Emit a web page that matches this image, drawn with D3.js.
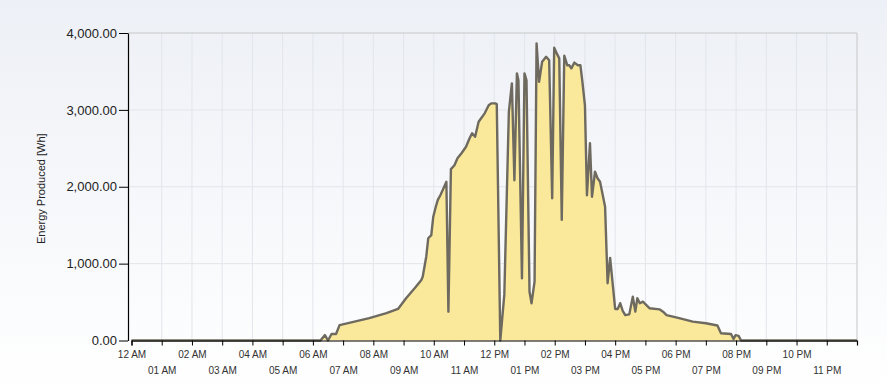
<!DOCTYPE html>
<html>
<head>
<meta charset="utf-8">
<script src="https://cdn.jsdelivr.net/npm/d3@7"></script>
<style>
  body { margin: 0; background: #fff; }
  svg { display: block; font-family: "Liberation Sans", Arial, sans-serif; }
</style>
</head>
<body>
<script>
// readings, time of day -> Wh
const times = ["0:00","6:15","6:24","6:30","6:37","6:46","6:53","7:52","8:26","8:49","9:05","9:22","9:35","9:38","9:45","9:49","9:55","9:59","10:04","10:08","10:13","10:18","10:25","10:29","10:34","10:41","10:47","10:55","11:04","11:11","11:16","11:22","11:29","11:34","11:41","11:49","11:54","12:02","12:05","12:12","12:20","12:29","12:35","12:40","12:45","12:48","12:55","13:00","13:04","13:10","13:14","13:20","13:24","13:29","13:35","13:43","13:49","13:55","13:59","14:04","14:09","14:14","14:19","14:25","14:29","14:33","14:39","14:46","14:51","14:55","15:00","15:04","15:10","15:14","15:20","15:25","15:30","15:40","15:45","15:50","16:00","16:05","16:10","16:15","16:20","16:28","16:35","16:40","16:44","16:49","16:55","17:02","17:08","17:28","17:35","17:42","18:07","18:34","19:00","19:23","19:30","19:50","19:55","19:59","20:05","20:10","24:00"];
const energy = [0,0,70,0,85,85,200,290,355,410,550,680,785,830,1090,1330,1370,1610,1740,1830,1890,1960,2065,375,2230,2280,2370,2435,2520,2630,2695,2650,2845,2890,2955,3060,3085,3085,3075,0,600,2975,3345,2085,3475,3385,810,3475,3385,635,485,765,3865,3365,3625,3690,3645,1850,3810,3735,3670,1570,3705,3580,3580,3540,3615,3580,3580,3365,3060,1890,2565,1870,2195,2110,2065,1740,745,1075,410,410,485,385,330,340,570,375,550,485,505,460,420,405,375,330,290,245,225,195,95,85,20,70,60,0,0];
const hourTicks = d3.range(0, 24);
const valueTicks = [0, 1000, 2000, 3000, 4000];
const yLabel = "Energy Produced [Wh]";

const W = 887, H = 392;
const margin = {top: 33, right: 30, bottom: 51, left: 128};

const toHours = s => { const p = s.split(":"); return +p[0] + p[1] / 60; };
const data = times.map((t, i) => ({h: toHours(t), v: energy[i]}));

const svg = d3.select("body").append("svg")
  .attr("width", W)
  .attr("height", H);

const grad = svg.append("defs").append("linearGradient")
  .attr("id", "bg").attr("x1", 0).attr("y1", 0).attr("x2", 0).attr("y2", 1);
grad.append("stop").attr("offset", "0%").attr("stop-color", "#edf0f6");
grad.append("stop").attr("offset", "100%").attr("stop-color", "#ffffff");

svg.append("rect").attr("width", W).attr("height", H).attr("fill", "url(#bg)");

const x = d3.scaleLinear().domain([0, 24]).range([131.5, 857]);
const y = d3.scaleLinear().domain([0, 4000]).range([340.5, 33]);

// grid
const grid = svg.append("g");
grid.selectAll(".gx").data(hourTicks.slice(1))
  .enter().append("line")
  .attr("x1", d => x(d)).attr("x2", d => x(d))
  .attr("y1", y(4000)).attr("y2", y(0))
  .attr("stroke", "#e2e5eb");
grid.selectAll(".gy").data(valueTicks.slice(1, 4))
  .enter().append("line")
  .attr("x1", margin.left).attr("x2", x(24))
  .attr("y1", d => y(d)).attr("y2", d => y(d))
  .attr("stroke", "#e2e5eb");

// plot frame top/right
svg.append("path")
  .attr("d", `M${margin.left},${y(4000)}H${x(24)}V${y(0)}`)
  .attr("fill", "none")
  .attr("stroke", "#c6c6c6");

const area = d3.area()
  .x(d => x(d.h))
  .y0(y(0))
  .y1(d => y(d.v));

const line = d3.line()
  .x(d => x(d.h))
  .y(d => y(d.v));

svg.append("path").datum(data)
  .attr("d", area)
  .attr("fill", "#fbe896")
  .attr("fill-opacity", 0.95);

svg.append("path").datum(data)
  .attr("d", line)
  .attr("fill", "none")
  .attr("stroke", "#6e6a5f")
  .attr("stroke-width", 2.4)
  .attr("stroke-linejoin", "round");

// x axis
const fmt = d3.timeFormat("%I %p");
const xAxis = svg.append("g")
  .attr("transform", `translate(0,${y(0)})`)
  .call(d3.axisBottom(x).tickValues(hourTicks).tickSize(5).tickSizeOuter(5)
    .tickFormat(d => fmt(new Date(2020, 0, 1, d))));
xAxis.select(".domain").attr("stroke", "#000").attr("stroke-width", 1.2);
xAxis.selectAll(".tick line").attr("stroke", "#000");
xAxis.selectAll("text")
  .attr("font-size", "10px")
  .attr("fill", "#333")
  .attr("font-family", "\"Liberation Sans\", Arial, sans-serif")
  .attr("y", d => d % 2 === 0 ? 10 : 26);

// y axis
const yAxis = svg.append("g")
  .attr("transform", `translate(${margin.left},0)`)
  .call(d3.axisLeft(y).tickValues(valueTicks).tickSize(9).tickSizeOuter(0)
    .tickFormat(d3.format(",.2f")));
yAxis.select(".domain").attr("stroke", "#000").attr("stroke-width", 1.2);
yAxis.selectAll(".tick line").attr("stroke", "#000");
yAxis.selectAll("text")
  .attr("font-size", "13px")
  .attr("fill", "#222")
  .attr("font-family", "\"Liberation Sans\", Arial, sans-serif")
  .attr("x", -11);

svg.append("text")
  .attr("transform", `translate(45,${(y(0) + y(4000)) / 2 + 2}) rotate(-90)`)
  .attr("text-anchor", "middle")
  .attr("font-size", "11px")
  .attr("fill", "#222")
  .text(yLabel);
</script>
</body>
</html>
